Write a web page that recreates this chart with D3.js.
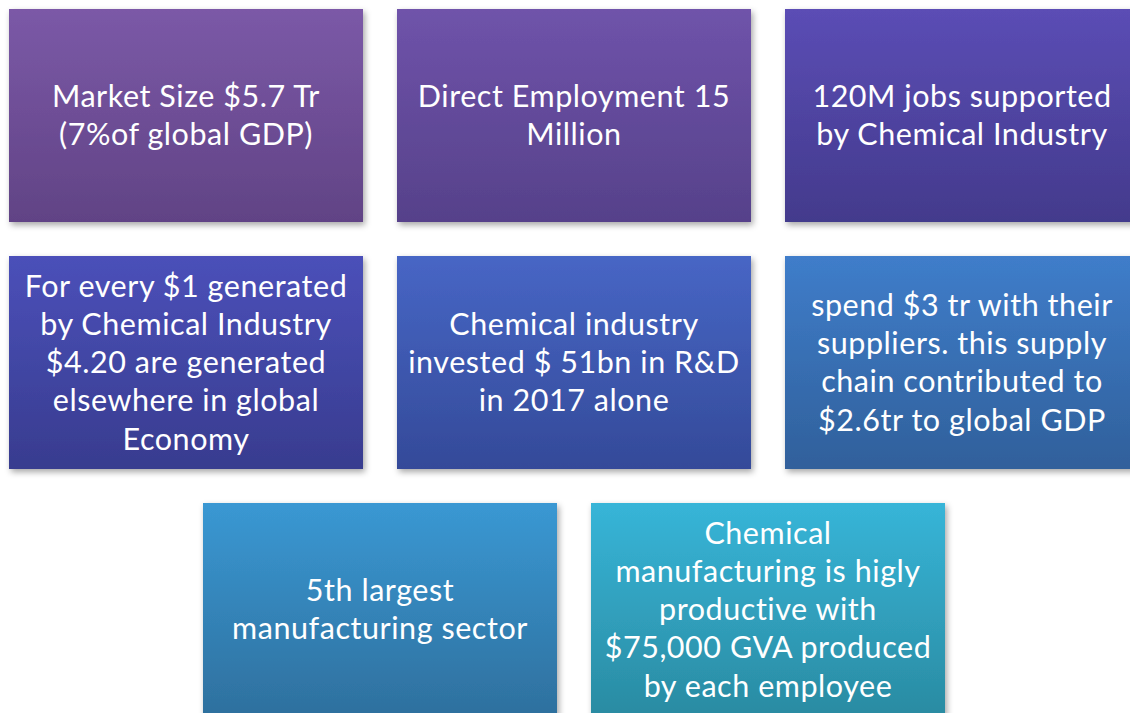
<!DOCTYPE html>
<html>
<head>
<meta charset="utf-8">
<script src="https://cdn.jsdelivr.net/npm/d3@7"></script>
<style>
  html, body { margin: 0; padding: 0; background: #ffffff; overflow: hidden; }
</style>
</head>
<body>
<script>
// block texts, already wrapped as on the slide
const blockLines = [
  ['Market Size $5.7 Tr', '(7%of global GDP)'],
  ['Direct Employment 15', 'Million'],
  ['120M jobs supported', 'by Chemical Industry'],
  ['For every $1 generated', 'by Chemical Industry', '$4.20 are generated', 'elsewhere in global', 'Economy'],
  ['Chemical industry', 'invested $ 51bn in R&D', 'in 2017 alone'],
  ['spend $3 tr with their', 'suppliers. this supply', 'chain contributed to', '$2.6tr to global GDP'],
  ['5th largest', 'manufacturing sector'],
  ['Chemical', 'manufacturing is higly', 'productive with', '$75,000 GVA produced', 'by each employee']
];
const blockCol = [0, 1, 2, 0, 1, 2, 0.5, 1.5];
const blockRow = [0, 0, 0, 1, 1, 1, 2, 2];
const topColors = ['#7b59a7', '#6f53aa', '#5b4db5', '#4b50b9', '#4766c5', '#3f7dca', '#3a98d3', '#37b5d8'];
const bottomColors = ['#614385', '#56418a', '#433a8c', '#383c8f', '#344a99', '#30609b', '#2e709e', '#2a8ba2'];

const width = 1130, height = 713;
const boxW = 354, boxH = 213;

const x = d3.scaleLinear().domain([0, 1]).range([9, 397]);
const y = d3.scaleLinear().domain([0, 1]).range([9, 256]);

const svg = d3.select('body').append('svg')
  .attr('width', width)
  .attr('height', height);

const defs = svg.append('defs');

defs.append('filter')
  .attr('id', 'shadow')
  .attr('x', '-10%').attr('y', '-10%')
  .attr('width', '130%').attr('height', '130%')
  .append('feDropShadow')
  .attr('dx', 2).attr('dy', 3)
  .attr('stdDeviation', 3)
  .attr('flood-color', '#000')
  .attr('flood-opacity', 0.35);

blockLines.forEach((d, i) => {
  const g = defs.append('linearGradient')
    .attr('id', 'grad' + i)
    .attr('x1', 0).attr('y1', 0).attr('x2', 0).attr('y2', 1);
  g.append('stop').attr('offset', '0%').attr('stop-color', topColors[i]);
  g.append('stop').attr('offset', '100%').attr('stop-color', bottomColors[i]);
});

const blocks = svg.selectAll('g.block')
  .data(blockLines)
  .enter()
  .append('g')
  .attr('class', 'block')
  .attr('transform', (d, i) => `translate(${x(blockCol[i])}, ${y(blockRow[i])})`);

blocks.append('rect')
  .attr('width', boxW)
  .attr('height', boxH)
  .attr('fill', (d, i) => `url(#grad${i})`)
  .attr('filter', 'url(#shadow)');

const lineH = 38.3;

blocks.append('text')
  .attr('text-anchor', 'middle')
  .attr('fill', '#ffffff')
  .style('font-family', 'Lato, "Open Sans", sans-serif')
  .style('font-size', '30.5px')
  .style('letter-spacing', '0.55px')
  .selectAll('tspan')
  .data(d => d.map((t, j) => ({ t, j, n: d.length })))
  .enter()
  .append('tspan')
  .attr('x', boxW / 2)
  .attr('y', l => boxH / 2 + (l.j - (l.n - 1) / 2) * lineH)
  .attr('dy', '0.35em')
  .text(l => l.t);
</script>
</body>
</html>
